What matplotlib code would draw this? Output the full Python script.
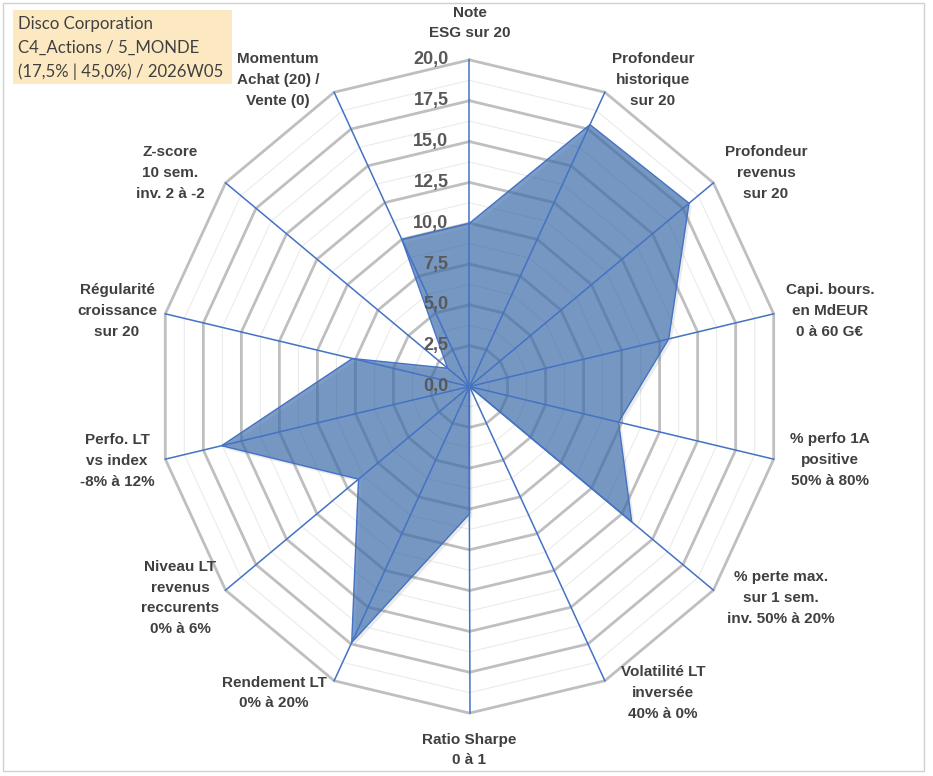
#! /usr/bin/env python3

import numpy as np
import matplotlib.pyplot as plt
from matplotlib.patches import Rectangle


# Radar "Disco Corporation" - 14 criteria, scored on 0..20.
criteres = ["Note\nESG sur 20",
            "Profondeur\nhistorique\nsur 20",
            "Profondeur\nrevenus\nsur 20",
            "Capi. bours.\nen MdEUR\n0 à 60 G€",
            "% perfo 1A\npositive\n50% à 80%",
            "% perte max.\nsur 1 sem.\ninv. 50% à 20%",
            "Volatilité LT\ninversée\n40% à 0%",
            "Ratio Sharpe\n0 à 1",
            "Rendement LT\n0% à 20%",
            "Niveau LT\nrevenus\nreccurents\n0% à 6%",
            "Perfo. LT\nvs index\n-8% à 12%",
            "Régularité\ncroissance\nsur 20",
            "Z-score\n10 sem.\ninv. 2 à -2",
            "Momentum\nAchat (20) /\nVente (0)"]
notes = [10.0, 17.8, 18.0, 13.1, 9.8, 13.3, 0.0,
         7.8, 17.4, 9.1, 16.3, 7.7, 1.8, 10.0]
graduations = [0.0, 2.5, 5.0, 7.5, 10.0, 12.5, 15.0, 17.5, 20.0]
titre = ["Disco Corporation",
         "C4_Actions / 5_MONDE",
         "(17,5% | 45,0%) / 2026W05"]

# label anchor points, in pixels from top-left
pos_labels = [(470, 23), (653, 80), (766, 173), (830, 311), (830, 460),
              (781, 598), (663, 693), (469, 750), (274, 693), (180, 598),
              (117, 461), (117, 311), (170, 173), (278, 80)]

W, H = 933, 776
cx, cy = 469.5, 386.5      # centre in pixels
sx, sy = 15.6, 16.33       # pixels per unit (Excel stretched it a bit)

bleu = "#4472C4"
gris = "#595959"

fig = plt.figure(figsize=(W / 100, H / 100), dpi=100)
ax = fig.add_axes([0, 0, 1, 1])
ax.set_xlim(-cx / sx, (W - cx) / sx)
ax.set_ylim(-(H - cy) / sy, cy / sy)
ax.axis("off")

n = len(criteres)
theta = np.arange(n) * 2 * np.pi / n
ux, uy = np.sin(theta), np.cos(theta)
ux_c, uy_c = np.append(ux, ux[0]), np.append(uy, uy[0])

# grid: major rings every 2.5, minor in between
for r in np.arange(1.25, 20.01, 1.25):
    major = abs(r / 2.5 - round(r / 2.5)) < 1e-6
    ax.plot(r * ux_c, r * uy_c,
            color="#BFBFBF" if major else "#EBEBEB",
            lw=2.0 if major else 0.8, zorder=1, solid_joinstyle="miter")

# series
v = np.array(notes)
vx, vy = np.append(v * ux, v[0] * ux[0]), np.append(v * uy, v[0] * uy[0])
ax.fill(vx + 0.18, vy - 0.18, color="#000000", alpha=0.08, lw=0, zorder=1.5)
ax.fill(vx, vy, color="#3E6FAE", alpha=0.68, lw=0, zorder=2)
ax.plot(vx, vy, color=bleu, lw=1.0, zorder=3)

# spokes
for i in range(n):
    ax.plot([0, 20 * ux[i]], [0, 20 * uy[i]], color=bleu, lw=1.1, zorder=4)

# radial tick labels
for g in graduations:
    ax.text(-21 / sx, g, f"{g:.1f}".replace(".", ","), ha="right", va="center",
            fontsize=13, fontweight="bold", color=gris,
            family="Liberation Sans", zorder=5)

# category labels
for lab, (px, py) in zip(criteres, pos_labels):
    fig.text(px / W, 1 - py / H, lab, ha="center", va="center",
             fontsize=11, fontweight="bold", color="#404040",
             family="Liberation Sans", linespacing=1.6)

# info box
fig.patches.append(Rectangle((13 / W, 1 - 84 / H), 219 / W, 74 / H,
                             transform=fig.transFigure, facecolor="#FCE9C2",
                             edgecolor="none", zorder=0))
for k, t in enumerate(titre):
    fig.text(18 / W, 1 - (24 + 24 * k) / H, t, ha="left", va="center",
             fontsize=12.1, color="#404040", family="Lato")

# chart border
fig.patches.append(Rectangle((3 / W, 1 - 771 / H), 921 / W, 768 / H,
                             transform=fig.transFigure, facecolor="none",
                             edgecolor="#D0D0D0", lw=1.0))

fig.savefig("out.png", dpi=100)
